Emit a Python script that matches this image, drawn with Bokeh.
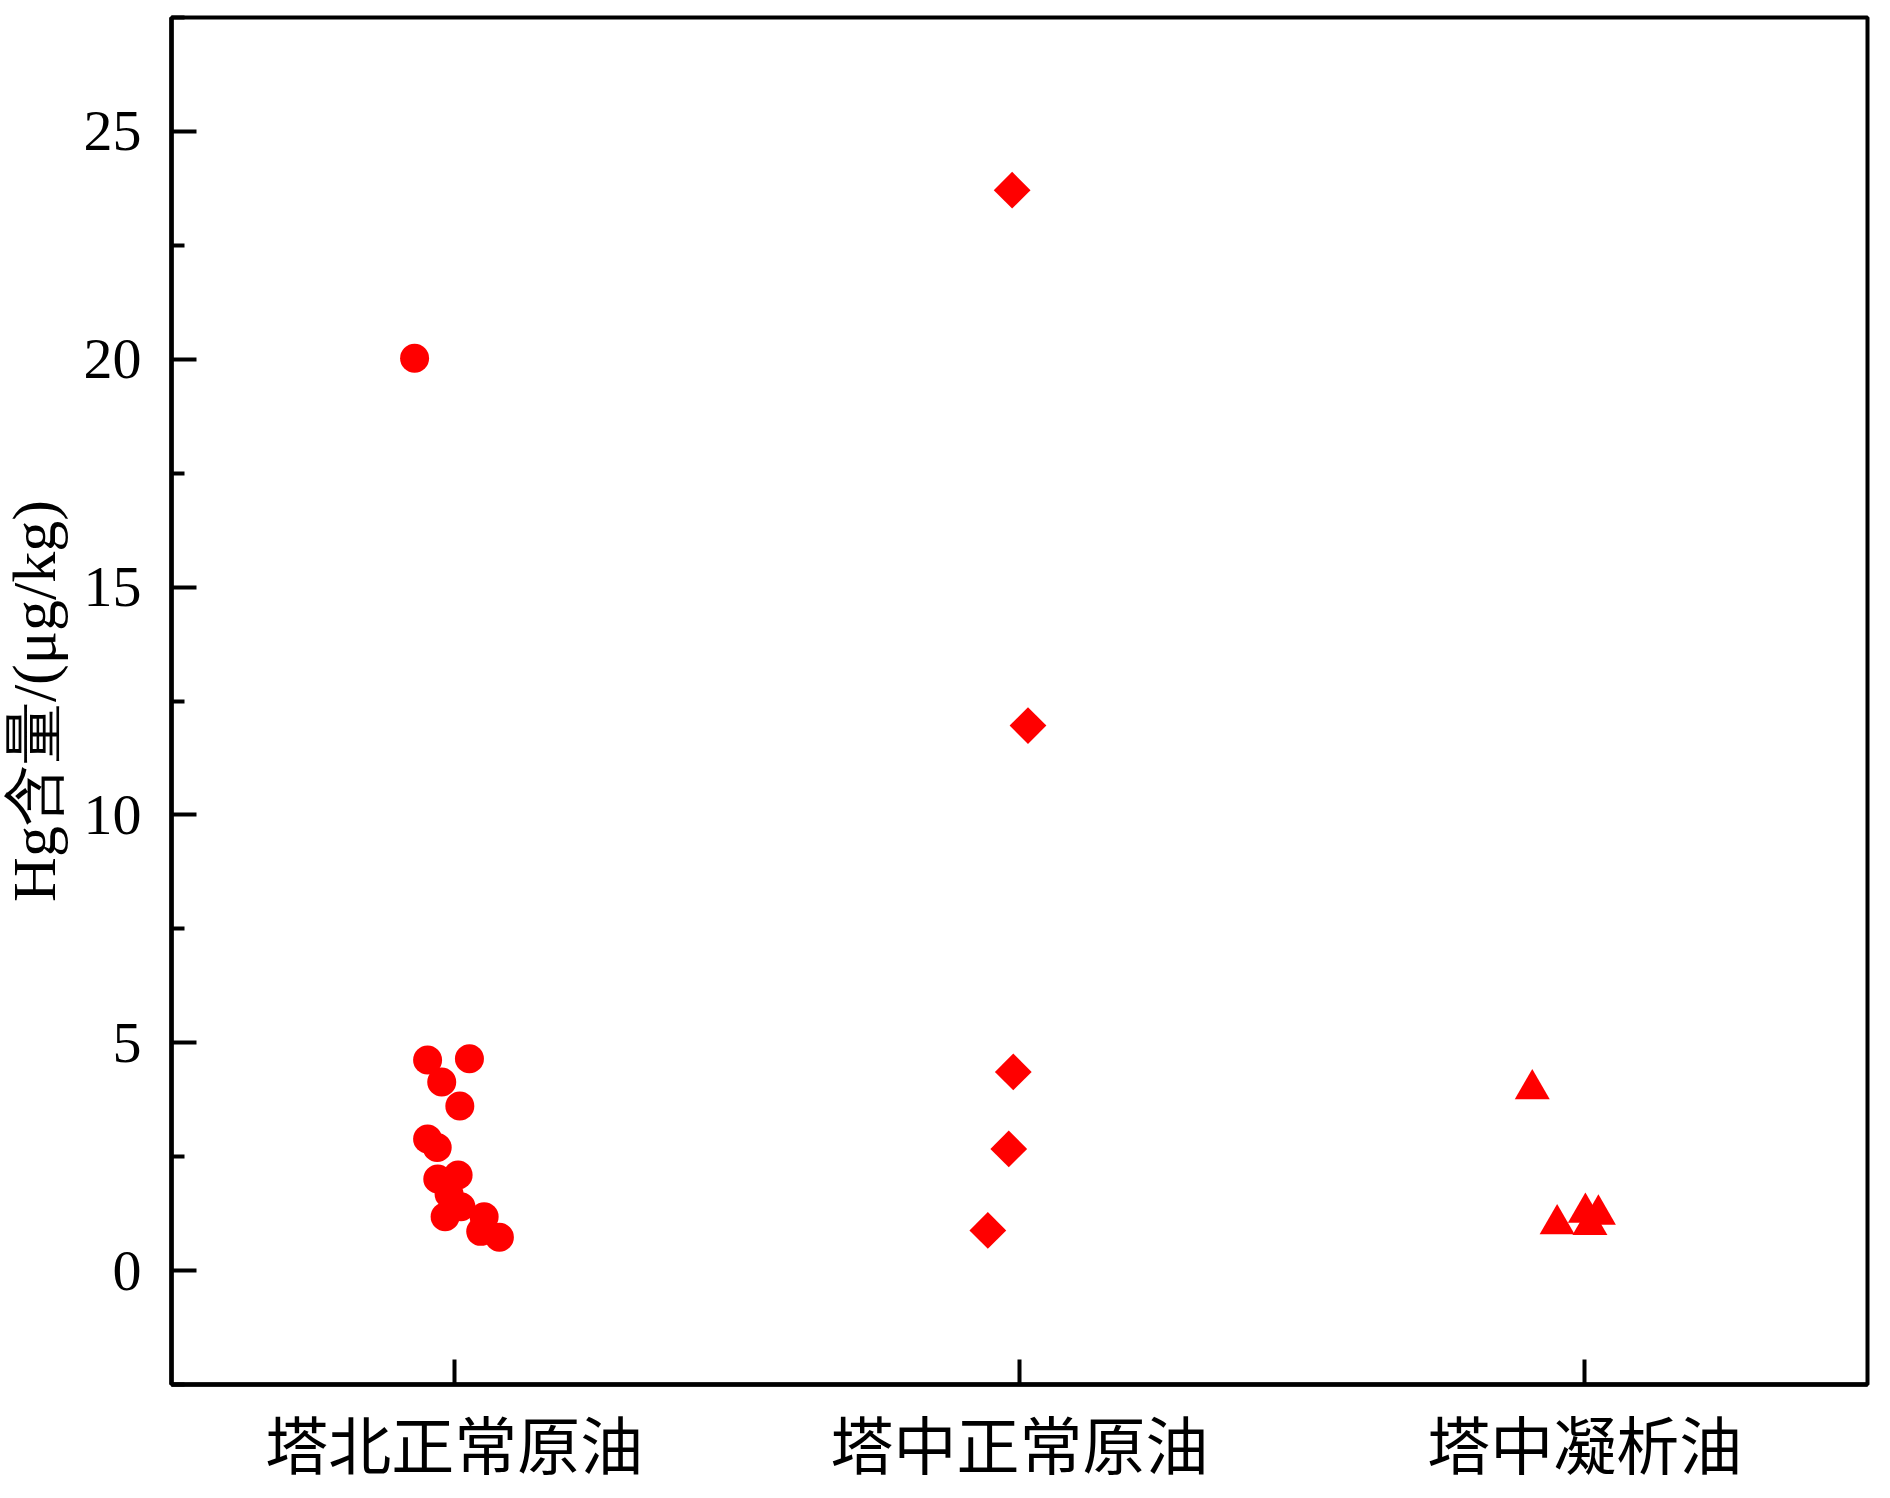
import math
from bokeh.plotting import figure
from bokeh.models import FixedTicker, Range1d, Title
from bokeh.embed import file_html
from bokeh.resources import INLINE

# ---- data ----
categories = ["塔北正常原油", "塔中正常原油", "塔中凝析油"]
cat_pos = [1, 2, 3]

tabei_x = [0.930, 0.953, 1.027, 0.978, 1.010, 0.953, 0.970, 0.971, 1.007, 0.991, 1.012, 0.984, 1.053, 1.047, 1.080]
tabei_y = [20.02, 4.62, 4.65, 4.14, 3.61, 2.89, 2.70, 2.01, 2.10, 1.68, 1.40, 1.18, 1.18, 0.86, 0.73]

tazhong_x = [1.987, 2.015, 1.989, 1.981, 1.944]
tazhong_y = [23.71, 11.96, 4.36, 2.67, 0.88]

cond_x = [2.907, 2.951, 3.001, 3.024, 3.009]
cond_y = [3.98, 1.02, 1.27, 1.23, 1.00]

y_ticks = [0, 5, 10, 15, 20, 25]
y_minor = [-2.5, 2.5, 7.5, 12.5, 17.5, 22.5, 27.5]
y_title = "Hg含量/(μg/kg)"

RED = "#FF0000"

SHIFT = 24  # canvas starts slightly left of the window edge

p = figure(width=1890 + SHIFT, height=1498, output_backend="svg", toolbar_location=None,
           x_range=Range1d(0.5, 3.5), y_range=Range1d(-2.5, 27.5),
           min_border_left=171 + SHIFT, min_border_right=23, min_border_top=17, min_border_bottom=114)
p.margin = (0, 0, 0, -SHIFT)

p.scatter(tabei_x, tabei_y, marker="circle", size=29, fill_color=RED, line_color=RED, line_width=0)
p.scatter(tazhong_x, tazhong_y, marker="square", angle=math.pi / 4, size=26,
          fill_color=RED, line_color=RED, line_width=0)
p.scatter(cond_x, cond_y, marker="triangle", size=35, fill_color=RED, line_color=RED, line_width=0)

p.xgrid.visible = False
p.ygrid.visible = False
p.outline_line_color = "black"
p.outline_line_width = 4
p.background_fill_color = "white"
p.border_fill_color = "white"

# x axis
p.xaxis.ticker = FixedTicker(ticks=cat_pos)
p.xaxis.major_label_overrides = {pos: name for pos, name in zip(cat_pos, categories)}
p.xaxis.major_label_text_font = "Noto Sans CJK SC"
p.xaxis.major_label_text_font_size = "63px"
p.xaxis.major_label_text_color = "black"
p.xaxis.major_label_standoff = 11
p.xaxis.major_tick_in = 25
p.xaxis.major_tick_out = 0
p.xaxis.minor_tick_line_color = None
p.xaxis.major_tick_line_width = 4
p.xaxis.axis_line_width = 4.5

# y axis
p.yaxis.ticker = FixedTicker(ticks=y_ticks, minor_ticks=y_minor)
p.yaxis.major_label_text_font = "Liberation Serif"
p.yaxis.major_label_text_font_size = "58px"
p.yaxis.major_label_text_color = "black"
p.yaxis.major_label_standoff = 30
p.yaxis.major_tick_in = 25
p.yaxis.major_tick_out = 0
p.yaxis.minor_tick_in = 13
p.yaxis.minor_tick_out = 0
p.yaxis.major_tick_line_width = 4
p.yaxis.minor_tick_line_width = 4
p.yaxis.axis_line_width = 4.5

# y-axis title as a side title
p.add_layout(Title(text=y_title, align="center", text_font="Liberation Serif",
                   text_font_size="62px", text_font_style="normal", text_color="black",
                   standoff=26, offset=0), "left")

open("out.html", "w").write(file_html(p, INLINE))
